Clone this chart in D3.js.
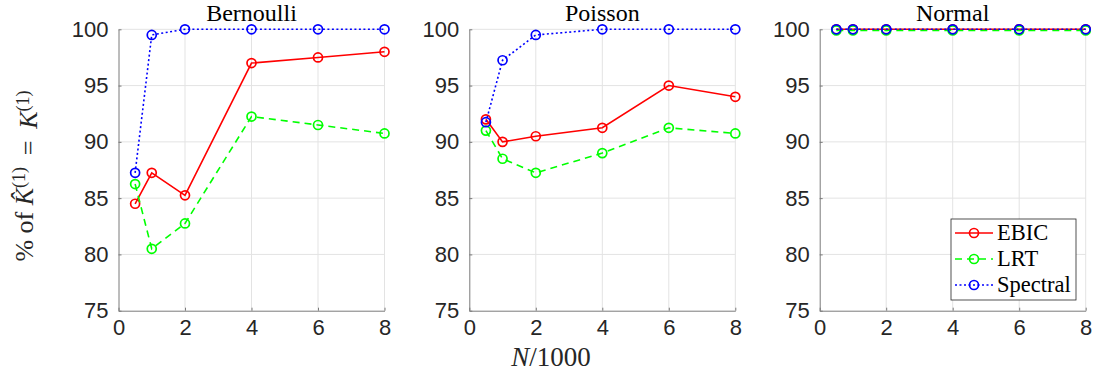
<!DOCTYPE html>
<html><head><meta charset="utf-8">
<script src="https://cdn.jsdelivr.net/npm/d3@7"></script>
<style>body{margin:0;background:#fff}svg{display:block}</style>
</head><body><svg id="c" width="1096" height="376"></svg>
<script>
const xValues = [0.5, 1, 2, 4, 6, 8];
const panelTitles = ["Bernoulli", "Poisson", "Normal"];
const seriesNames = ["EBIC", "LRT", "Spectral"];
const ebic = [
  [84.5, 87.25, 85.25, 97.0, 97.5, 98.0],
  [92.0, 90.0, 90.5, 91.25, 95.0, 94.0],
  [100, 100, 100, 100, 100, 100]
];
const lrt = [
  [86.25, 80.5, 82.75, 92.25, 91.5, 90.75],
  [91.0, 88.5, 87.25, 89.0, 91.25, 90.75],
  [99.9, 99.9, 99.9, 99.9, 99.9, 99.9]
];
const spectral = [
  [87.25, 99.5, 100, 100, 100, 100],
  [91.75, 97.25, 99.5, 100, 100, 100],
  [100, 100, 100, 100, 100, 100]
];
const xTicks = [0, 2, 4, 6, 8];
const yTicks = [75, 80, 85, 90, 95, 100];

const styles = [
  {color: "#ff0000", dash: null},
  {color: "#00ff00", dash: "7,5"},
  {color: "#0000ff", dash: "2,2.5"}
];
const allSeries = [ebic, lrt, spectral];

const svg = d3.select("#c");
const lefts = [118.5, 469.3, 819.7];
const W = 266, T = 29.3, H = 281.4;
const tickFont = "Liberation Sans, Arial, sans-serif";
const serif = "Liberation Serif, Times New Roman, serif";

lefts.forEach((L, p) => {
  const x = d3.scaleLinear().domain([0, 8]).range([L, L + W]);
  const y = d3.scaleLinear().domain([75, 100]).range([T + H, T]);
  const g = svg.append("g");
  // grid
  g.selectAll(".gx").data(xTicks.slice(1)).join("line")
    .attr("x1", d => x(d)).attr("x2", d => x(d)).attr("y1", T).attr("y2", T + H)
    .attr("stroke", "#e3e3e3").attr("stroke-width", 1);
  g.selectAll(".gy").data(yTicks.slice(1)).join("line")
    .attr("x1", L).attr("x2", L + W).attr("y1", d => y(d)).attr("y2", d => y(d))
    .attr("stroke", "#e3e3e3").attr("stroke-width", 1);
  // axes
  const ax = g.append("g").attr("transform", `translate(0,${T + H})`)
    .call(d3.axisBottom(x).tickValues(xTicks).tickSizeInner(-3).tickSizeOuter(0).tickPadding(9));
  const ay = g.append("g").attr("transform", `translate(${L},0)`)
    .call(d3.axisLeft(y).tickValues(yTicks).tickSizeInner(-3).tickSizeOuter(0).tickPadding(10));
  [ax, ay].forEach(a => {
    a.select(".domain").attr("stroke", "#7a7a7a").attr("stroke-width", 1);
    a.selectAll(".tick line").attr("stroke", "#7a7a7a");
    a.selectAll("text").attr("fill", "#262626").style("font-family", tickFont).style("font-size", "22px");
  });
  ax.selectAll("text").attr("dy", "0.71em");
  // title
  g.append("text").attr("x", L + W / 2).attr("y", 21).attr("text-anchor", "middle")
    .style("font-family", serif).style("font-size", "24px").attr("fill", "#000")
    .text(panelTitles[p]);
  // series
  allSeries.forEach((s, si) => {
    const vals = s[p];
    const pts = xValues.map((xv, i) => [xv, vals[i]]);
    const line = d3.line().x(d => x(d[0])).y(d => y(d[1]));
    g.append("path").attr("d", line(pts)).attr("fill", "none")
      .attr("stroke", styles[si].color).attr("stroke-width", 1.6)
      .attr("stroke-dasharray", styles[si].dash);
    g.selectAll(null).data(pts).join("circle")
      .attr("cx", d => x(d[0])).attr("cy", d => y(d[1])).attr("r", 4.5)
      .attr("fill", "none").attr("stroke", styles[si].color).attr("stroke-width", 1.7);
  });
});

// y label
const yl = svg.append("text").attr("transform", "translate(33,176) rotate(-90)")
  .attr("text-anchor", "middle").style("font-family", serif).style("font-size", "26px").attr("fill", "#262626");
yl.append("tspan").text("% of ");
yl.append("tspan").style("font-style", "italic").text("K\u0302");
yl.append("tspan").attr("dy", "-0.45em").style("font-size", "18px").text("(1)");
yl.append("tspan").attr("dy", "0.45em").text(" \u2009=\u2009 ");
yl.append("tspan").style("font-style", "italic").text("K");
yl.append("tspan").attr("dy", "-0.45em").style("font-size", "18px").text("(1)");

// x label
const xl = svg.append("text").attr("x", 551).attr("y", 366).attr("text-anchor", "middle")
  .style("font-family", serif).style("font-size", "27px").attr("fill", "#262626");
xl.append("tspan").style("font-style", "italic").text("N");
xl.append("tspan").text("/1000");

// legend
const lg = svg.append("g");
lg.append("rect").attr("x", 951).attr("y", 219).attr("width", 125).attr("height", 81)
  .attr("fill", "#fff").attr("stroke", "#262626").attr("stroke-width", 0.8);
seriesNames.forEach((n, i) => {
  const yy = 233 + i * 26;
  lg.append("line").attr("x1", 955).attr("x2", 993).attr("y1", yy).attr("y2", yy)
    .attr("stroke", styles[i].color).attr("stroke-width", 1.6).attr("stroke-dasharray", styles[i].dash);
  lg.append("circle").attr("cx", 974).attr("cy", yy).attr("r", 4.5).attr("fill", "none")
    .attr("stroke", styles[i].color).attr("stroke-width", 1.7);
  lg.append("text").attr("x", 997).attr("y", yy + 7).style("font-family", serif)
    .style("font-size", "22.5px").attr("fill", "#000").text(n);
});
</script></body></html>
